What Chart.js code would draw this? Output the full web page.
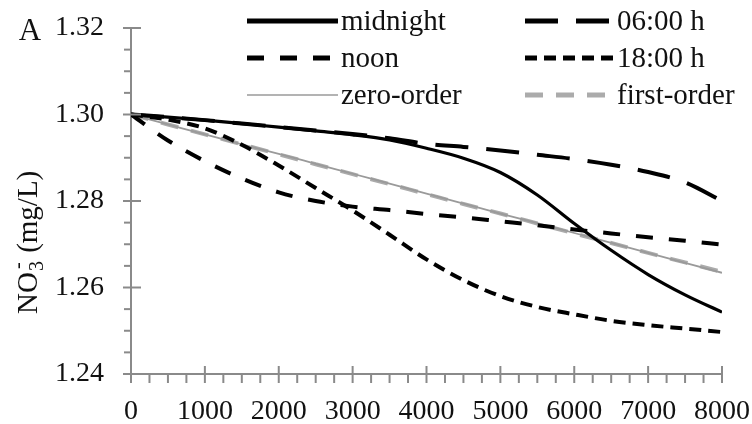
<!DOCTYPE html>
<html>
<head>
<meta charset="utf-8">
<script src="https://cdn.jsdelivr.net/npm/chart.js@4.4.1/dist/chart.umd.min.js"></script>
<style>
  html, body { margin: 0; padding: 0; background: #fff; }
  #wrap { width: 752px; height: 424px; }
</style>
</head>
<body>
<div id="wrap"><canvas id="grafico" width="752" height="424"></canvas></div>
<script>
// time (x) and nitrate concentration (mg/L) per run
const times = [0, 500, 1000, 1500, 2000, 2500, 3000, 3500, 4000, 4500, 5000, 5500, 6000, 6500, 7000, 7500, 8000];
const midnight = [1.3000, 1.2994, 1.2987, 1.2979, 1.2971, 1.2962, 1.2953, 1.2941, 1.2922, 1.2899, 1.2866, 1.2814, 1.2748, 1.2686, 1.2630, 1.2583, 1.2543];
const h0600 = [1.3000, 1.2994, 1.2987, 1.2979, 1.2971, 1.2963, 1.2955, 1.2945, 1.2932, 1.2925, 1.2917, 1.2907, 1.2897, 1.2884, 1.2867, 1.2843, 1.2800];
const noon = [1.3000, 1.2940, 1.2892, 1.2852, 1.2820, 1.2800, 1.2787, 1.2779, 1.2770, 1.2762, 1.2753, 1.2744, 1.2734, 1.2725, 1.2716, 1.2708, 1.2699];
const h1800 = [1.3000, 1.2988, 1.2968, 1.2930, 1.2882, 1.2830, 1.2778, 1.2722, 1.2665, 1.2617, 1.2580, 1.2555, 1.2538, 1.2523, 1.2513, 1.2505, 1.2497];
const zeroOrder = [1.3000, 1.2977, 1.2954, 1.2931, 1.2909, 1.2886, 1.2863, 1.2840, 1.2817, 1.2794, 1.2771, 1.2749, 1.2726, 1.2703, 1.2680, 1.2657, 1.2634];
const firstOrder = [1.3000, 1.2977, 1.2954, 1.2931, 1.2908, 1.2885, 1.2862, 1.2839, 1.2816, 1.2793, 1.2771, 1.2748, 1.2725, 1.2703, 1.2680, 1.2658, 1.2636];

const labels = ["midnight", "06:00 h", "noon", "18:00 h", "zero-order", "first-order"];
const yTicks = [1.24, 1.26, 1.28, 1.30, 1.32];
const xTicks = [0, 1000, 2000, 3000, 4000, 5000, 6000, 7000, 8000];

const serie = (vals) => times.map((t, i) => ({ x: t, y: vals[i] }));
const axisGray = "#8a8a8a";

const datasets = [
  { label: labels[0], data: serie(midnight), borderColor: "#000", borderWidth: 3.2, borderDash: [], legendWidth: 5 },
  { label: labels[1], data: serie(h0600), borderColor: "#000", borderWidth: 4, borderDash: [33, 18], legendWidth: 5 },
  { label: labels[2], data: serie(noon), borderColor: "#000", borderWidth: 4, borderDash: [17, 16], legendWidth: 5 },
  { label: labels[3], data: serie(h1800), borderColor: "#000", borderWidth: 4, borderDash: [12, 7], legendWidth: 5 },
  { label: labels[4], data: serie(zeroOrder), borderColor: "#9a9a9a", borderWidth: 1.8, borderDash: [], legendWidth: 1.5 },
  { label: labels[5], data: serie(firstOrder), borderColor: "#ababab", borderWidth: 4, borderDash: [18, 13], legendWidth: 5 }
].map(d => Object.assign(d, { pointRadius: 0, fill: false, cubicInterpolationMode: "monotone", borderCapStyle: "butt" }));

const isMajor = (v, step) => Math.abs(Math.round(v / step) * step - v) < 1e-7;

// tick marks, y title, panel letter and the two-column legend
const extras = {
  id: "extras",
  afterDraw(chart) {
    const c = chart.ctx;
    const xs = chart.scales.x, ys = chart.scales.y;
    const x0 = xs.left, y0 = ys.bottom;
    c.save();
    c.strokeStyle = axisGray;
    c.lineWidth = 2;
    ys.ticks.forEach(t => {
      const py = ys.getPixelForValue(t.value);
      const major = yTicks.some(v => Math.abs(v - t.value) < 1e-7);
      c.beginPath();
      c.moveTo(x0 - (major ? 8 : 7), py);
      c.lineTo(major ? x0 + 10 : x0, py);
      c.stroke();
    });
    xs.ticks.forEach(t => {
      const px = xs.getPixelForValue(t.value);
      const major = xTicks.includes(t.value);
      c.beginPath();
      c.moveTo(px, major ? y0 - 8 : y0);
      c.lineTo(px, y0 + 9);
      c.stroke();
    });

    c.fillStyle = "#111";
    c.font = "31px 'Liberation Serif'";
    c.textAlign = "center";
    c.textBaseline = "alphabetic";
    c.fillText("A", 30, 40);

    // NO3- (mg/L), rotated
    c.save();
    c.translate(37, 314);
    c.rotate(-Math.PI / 2);
    c.textAlign = "left";
    c.font = "29px 'Liberation Serif'";
    c.fillText("NO", 0, 0);
    let w = c.measureText("NO").width;
    c.font = "20px 'Liberation Serif'";
    c.fillText("3", w + 1, 6);
    c.fillText("-", w + 3, -13);
    w += c.measureText("3").width + 2;
    c.font = "29px 'Liberation Serif'";
    c.fillText(" (mg/L)", w, 0);
    c.restore();

    const cols = [{ x1: 247, x2: 338, tx: 341 }, { x1: 525, x2: 615, tx: 617 }];
    const rows = [21, 58, 95];
    c.font = "29px 'Liberation Serif'";
    c.textAlign = "left";
    chart.data.datasets.forEach((d, i) => {
      const col = cols[i % 2], ry = rows[Math.floor(i / 2)];
      c.strokeStyle = d.borderColor;
      c.lineWidth = d.legendWidth;
      c.setLineDash(d.borderDash);
      c.lineCap = "butt";
      c.beginPath();
      c.moveTo(col.x1, ry);
      c.lineTo(col.x2, ry);
      c.stroke();
      c.setLineDash([]);
      c.fillStyle = "#111";
      c.fillText(d.label, col.tx, ry + 9);
    });
    c.restore();
  }
};

new Chart(document.getElementById("grafico"), {
  type: "line",
  data: { datasets: datasets },
  plugins: [extras],
  options: {
    responsive: false,
    animation: false,
    layout: { padding: { top: 28, right: 30, left: 0, bottom: 0 } },
    plugins: { legend: { display: false }, tooltip: { enabled: false } },
    scales: {
      x: {
        type: "linear",
        min: 0, max: 8000,
        grid: { display: false, drawTicks: false },
        border: { display: true, color: axisGray, width: 2 },
        ticks: {
          stepSize: 250, autoSkip: false, maxRotation: 0, padding: 21,
          color: "#111", font: { family: "Liberation Serif", size: 28 },
          callback: v => (xTicks.includes(v) ? String(v) : "")
        },
        afterFit: s => { s.height = 50; s.paddingLeft = 0; s.paddingRight = 0; }
      },
      y: {
        min: 1.24, max: 1.32,
        grid: { display: false, drawTicks: false },
        border: { display: true, color: axisGray, width: 2 },
        ticks: {
          stepSize: 0.005, autoSkip: false, padding: 27,
          color: "#111", font: { family: "Liberation Serif", size: 28 },
          callback: v => (isMajor(v, 0.02) ? v.toFixed(2) : "")
        },
        afterFit: s => { s.width = 131; s.paddingTop = 0; s.paddingBottom = 0; }
      }
    }
  }
});
</script>
</body>
</html>
